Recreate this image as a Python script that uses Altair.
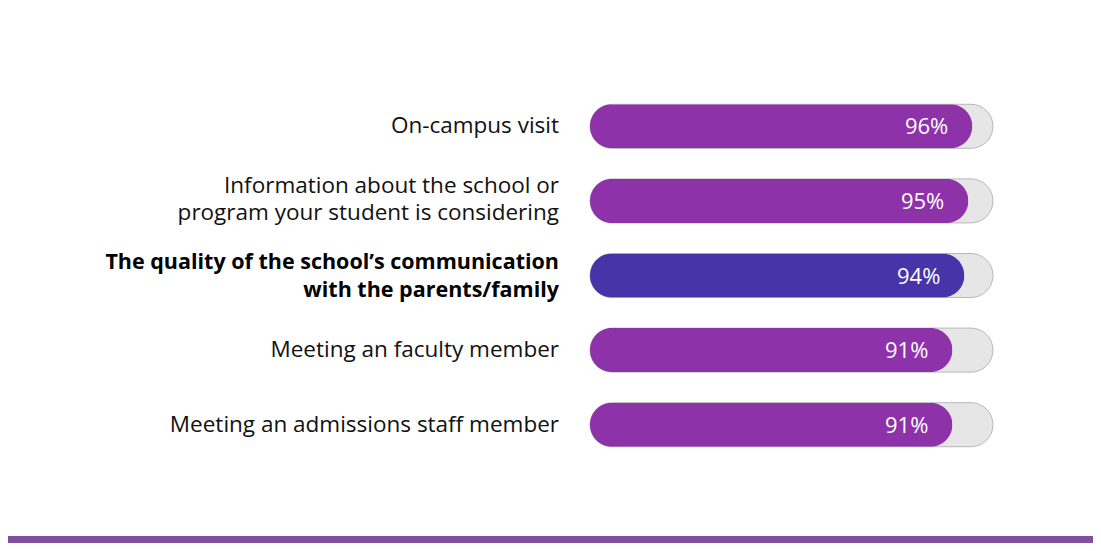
import altair as alt
import pandas as pd

categories = [
    "On-campus visit",
    "Information about the school or \nprogram your student is considering",
    "The quality of the school\u2019s communication \nwith the parents/family",
    "Meeting an faculty member",
    "Meeting an admissions staff member",
]
values = [96, 95, 94, 91, 91]
labels = ["96%", "95%", "94%", "91%", "91%"]
highlight = [False, False, True, False, False]

df = pd.DataFrame({"cat": categories, "val": values, "lab": labels, "hl": highlight})

W = 403
H = 373
order = categories

y = alt.Y("cat:N", sort=order, axis=None,
          scale=alt.Scale(paddingInner=0.41, paddingOuter=0.205))
xs = alt.Scale(domain=[0, 101.2], nice=False, zero=True)

base = alt.Chart(df)

track = base.mark_bar(cornerRadius=22, color="#e6e6e6", stroke="#b8b8b8", strokeWidth=1).encode(
    y=y, x=alt.value(0), x2=alt.value(W))

fill = base.mark_bar(cornerRadius=22).encode(
    y=y,
    x=alt.X("val:Q", scale=xs, axis=None),
    color=alt.Color("hl:N", scale=alt.Scale(domain=[False, True], range=["#8e32aa", "#4634a8"]), legend=None),
)

pct = base.mark_text(align="right", baseline="middle", dx=-24, dy=1, color="white",
                     font="Open Sans", fontSize=22).encode(
    y=y, x=alt.X("val:Q", scale=xs), text="lab:N")

single = "!datum.hl && indexof(datum.cat, '\\n') < 0"
multi = "!datum.hl && indexof(datum.cat, '\\n') >= 0"

lab_single = base.transform_filter(single).mark_text(
    align="right", baseline="middle",
    font="Open Sans", fontSize=22.5, color="#111111").encode(
    y=y, x=alt.value(-31), text="cat:N")

lab_multi = base.transform_filter(multi).mark_text(
    align="right", baseline="middle", lineBreak="\n", lineHeight=27, dy=-15,
    font="Open Sans", fontSize=22.5, color="#111111").encode(
    y=y, x=alt.value(-31), text="cat:N")

lab_bold = base.transform_filter("datum.hl").mark_text(
    align="right", baseline="middle", lineBreak="\n", lineHeight=28, dy=-13,
    font="Open Sans", fontSize=21.5, fontWeight="bold", color="#000000").encode(
    y=y, x=alt.value(-31), text="cat:N")

band = alt.Chart(pd.DataFrame({"k": [0]})).mark_rect(color="#814f9c").encode(
    x=alt.value(-590), x2=alt.value(520), y=alt.value(447), y2=alt.value(460))

chart = alt.layer(track, fill, pct, lab_single, lab_multi, lab_bold, band).properties(
    width=W, height=H,
    autosize=alt.AutoSizeParams(type="none"),
    padding={"left": 582, "top": 81, "right": 100, "bottom": 81},
).configure(background="white").configure_view(stroke=None)

chart.save("out.html", embed_options={"renderer": "svg", "actions": False})
